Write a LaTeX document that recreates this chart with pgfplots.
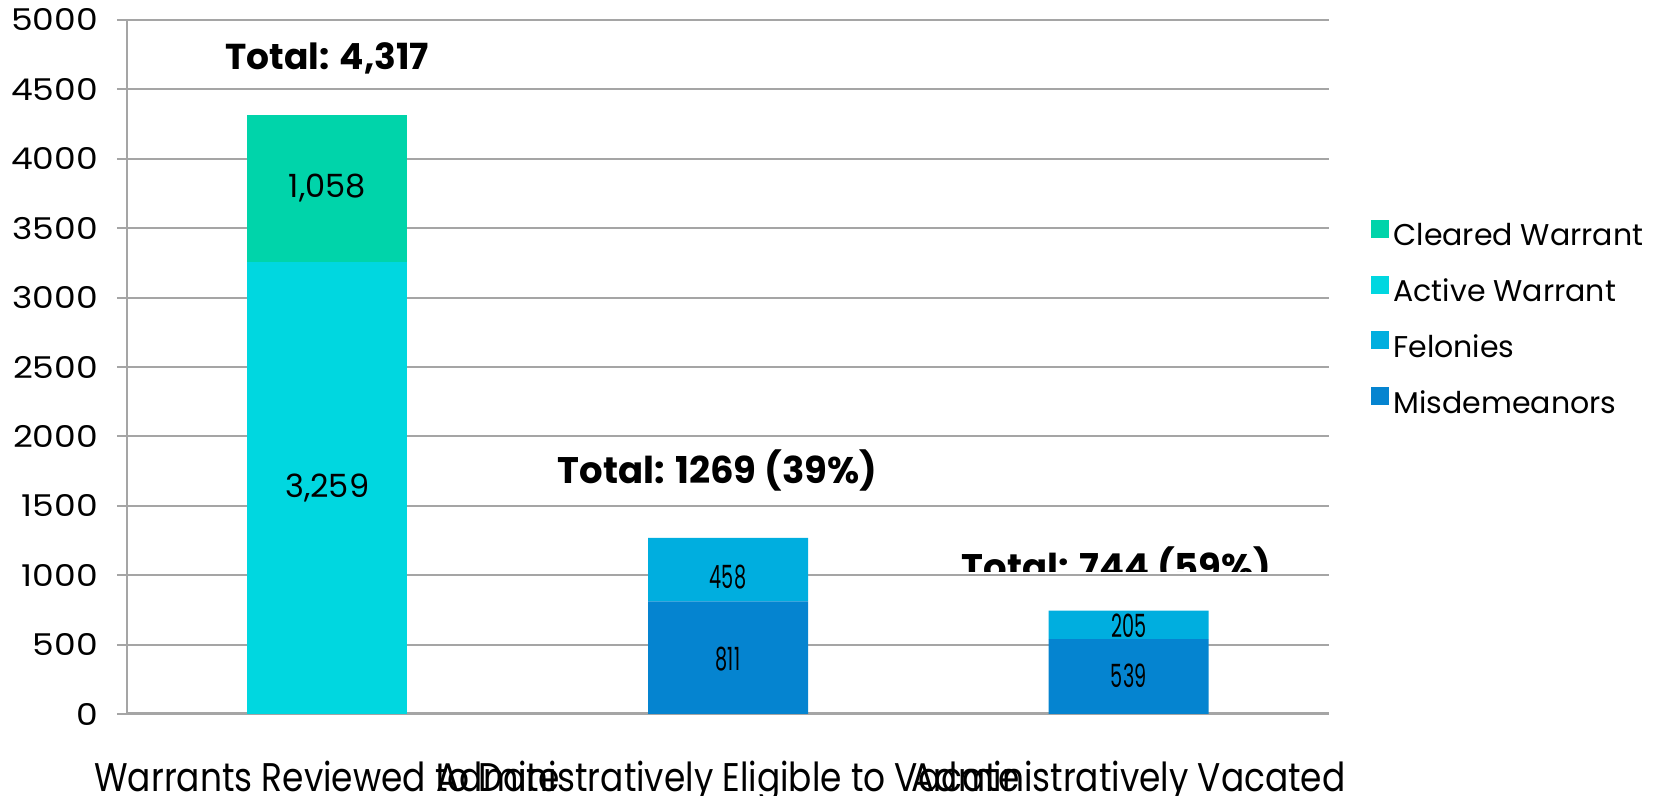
\documentclass[border=0pt]{standalone}
\usepackage{fontspec}
\setmainfont{Poppins}
\newfontfamily\tickfont[FakeStretch=1.15]{Poppins}
\newfontfamily\xlabfont[FakeStretch=0.86]{Poppins}
\newfontfamily\narrowfont[FakeStretch=0.6]{Poppins}
\usepackage{pgfplots}
\pgfplotsset{compat=1.18}
\definecolor{Cleared}{RGB}{0,212,170}
\definecolor{Active}{RGB}{0,215,224}
\definecolor{Felony}{RGB}{0,174,223}
\definecolor{Misd}{RGB}{5,132,208}
\definecolor{GridGray}{RGB}{165,165,165}

\begin{document}
\begin{tikzpicture}
  \path[use as bounding box] (-63.5pt,-41pt) rectangle (768pt,357pt);
  \begin{axis}[
    at={(0,0)}, anchor=south west,
    scale only axis,
    width=601pt, height=347pt,
    ybar stacked,
    bar width=80pt,
    xmin=-0.5, xmax=2.5,
    ymin=0, ymax=5000,
    ytick={0,500,...,5000},
    xtick={0,1,2},
    xticklabels={Warrants Reviewed to Date,Administratively Eligible to Vacate,Administratively Vacated},
    extra x ticks={-0.5,0.5,1.5,2.5},
    extra x tick labels={},
    extra x tick style={major tick length=10pt, tick style={GridGray, line width=1pt}},
    x tick style={draw=none},
    xticklabel style={font=\xlabfont\fontsize{20}{24}\selectfont, anchor=base, yshift=-33.5pt},
    yticklabel style={font=\tickfont\fontsize{15}{18}\selectfont, xshift=-6pt},
    /pgf/number format/1000 sep={},
    /pgf/number format/assume math mode=true,
    ymajorgrids,
    grid style={GridGray, line width=1pt},
    y tick style={GridGray, line width=1pt},
    tick align=outside,
    major tick length=5pt,
    axis x line*=bottom,
    axis y line*=left,
    x axis line style={GridGray, line width=1.5pt},
    y axis line style={GridGray, line width=1pt},
    legend style={at={(1.03,0.719)}, anchor=north west, draw=none,
      font=\fontsize{15}{18}\selectfont, row sep=11pt,
      /tikz/every even column/.append style={column sep=3pt}},
    legend cell align=left,
    reverse legend,
    legend image code/.code={\draw[#1, draw=none] (0pt,-1pt) rectangle (9pt,8pt);},
  ]
    \addplot[fill=Misd, draw=none] coordinates {(0,0) (1,811) (2,539)};
    \addplot[fill=Felony, draw=none] coordinates {(0,0) (1,458) (2,205)};
    \addplot[fill=Active, draw=none] coordinates {(0,3259) (1,0) (2,0)};
    \addplot[fill=Cleared, draw=none] coordinates {(0,1058) (1,0) (2,0)};
    \legend{Misdemeanors,Felonies,Active Warrant,Cleared Warrant}
  \end{axis}

  % labels on an overlaid axis so they sit above the stacked bars
  \begin{axis}[
    at={(0,0)}, anchor=south west,
    scale only axis,
    width=601pt, height=347pt,
    xmin=-0.5, xmax=2.5,
    ymin=0, ymax=5000,
    hide axis,
  ]
    \node[font=\fontsize{16}{19}\selectfont] at (axis cs:0,1629) {3,259};
    \node[font=\fontsize{16}{19}\selectfont] at (axis cs:0,3788) {1,058};
    \node[font=\narrowfont\fontsize{16}{19}\selectfont] at (axis cs:1,395) {811};
    \node[font=\narrowfont\fontsize{16}{19}\selectfont] at (axis cs:1,985) {458};
    \node[font=\narrowfont\fontsize{16}{19}\selectfont] at (axis cs:2,274) {539};
    \node[font=\narrowfont\fontsize{16}{19}\selectfont] at (axis cs:2,636) {205};
    \node[font=\bfseries\fontsize{18}{21}\selectfont] at (axis cs:0,4726) {Total: 4,317};
    \node[font=\bfseries\fontsize{18.5}{22}\selectfont] at (axis cs:0.974,1758) {Total: 1269 (39\%)};
    \pgfplotsextra{%
      \begin{scope}
        \clip (axis cs:1.5,1025) rectangle (axis cs:2.5,1300);
        \node[font=\bfseries\fontsize{18.5}{22}\selectfont, anchor=base] at (axis cs:1.97,960) {Total: 744 (59\%)};
      \end{scope}
    }
  \end{axis}
\end{tikzpicture}
\end{document}
